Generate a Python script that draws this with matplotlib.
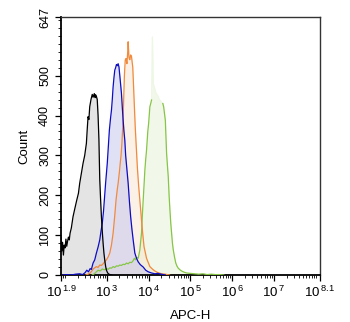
import matplotlib
matplotlib.use("Agg")
import matplotlib.pyplot as plt
from matplotlib.ticker import FixedLocator, LogLocator, NullFormatter, MultipleLocator
import numpy as np

plt.rcParams["font.family"] = ["Liberation Sans", "DejaVu Sans"]
plt.rcParams["mathtext.fontset"] = "custom"
plt.rcParams["mathtext.rm"] = "Liberation Sans"

# ── Histogram data (x in log10 units, y = count) ────────────────────────────

black_x = [1.90, 1.92, 1.94, 1.96, 1.98, 2.00, 2.02, 2.04, 2.06, 2.08,
           2.10, 2.12, 2.15, 2.19, 2.23, 2.28, 2.32, 2.35, 2.39, 2.43,
           2.47, 2.51, 2.53, 2.55, 2.57, 2.59, 2.62, 2.65, 2.67, 2.70,
           2.72, 2.73, 2.75, 2.77, 2.79, 2.81, 2.83, 2.85, 2.87, 2.89,
           2.91, 2.93, 2.95, 2.97, 2.99, 3.02, 3.05, 3.08, 3.12]
black_y = [95, 60, 82, 50, 75, 68, 90, 72, 85, 95,
           88, 105, 118, 146, 165, 188, 205, 230, 255, 280,
           300, 330, 365, 397, 390, 422, 440, 453, 446, 455,
           445, 452, 448, 440, 400, 340, 240, 190, 146, 110,
           80, 55, 37, 22, 12, 5, 2, 1, 0]

blue_x = [1.95, 2.05, 2.15, 2.25, 2.35, 2.42, 2.48, 2.52, 2.56, 2.60,
          2.63, 2.67, 2.71, 2.75, 2.79, 2.83, 2.86, 2.89, 2.92, 2.94,
          2.97, 3.01, 3.03, 3.06, 3.09, 3.11, 3.13, 3.15, 3.17, 3.19,
          3.21, 3.23, 3.25, 3.27, 3.29, 3.32, 3.35, 3.37, 3.39, 3.41,
          3.43, 3.45, 3.48, 3.51, 3.54, 3.57, 3.60, 3.63, 3.67, 3.71,
          3.75, 3.80, 3.87, 3.93, 3.99, 4.07, 4.15, 4.22, 4.30, 4.40]
blue_y = [0, 1, 0, 2, 3, 1, 6, 12, 8, 16,
          14, 30, 38, 55, 70, 88, 110, 129, 160, 188,
          230, 280, 313, 363, 395, 413, 440, 472, 495, 514,
          520, 528, 525, 530, 522, 489, 455, 420, 388, 360,
          338, 300, 265, 230, 185, 146, 115, 88, 55, 42,
          33, 26, 20, 12, 8, 5, 3, 4, 2, 0]

orange_x = [2.50, 2.55, 2.60, 2.64, 2.67, 2.71, 2.75, 2.79, 2.83, 2.87,
            2.91, 2.95, 2.99, 3.03, 3.07, 3.11, 3.15, 3.19, 3.22, 3.25,
            3.27, 3.30, 3.32, 3.34, 3.36, 3.38, 3.40, 3.42, 3.44, 3.46,
            3.48, 3.50, 3.51, 3.53, 3.55, 3.57, 3.59, 3.61, 3.62, 3.64,
            3.66, 3.68, 3.70, 3.73, 3.76, 3.79, 3.82, 3.85, 3.89, 3.95,
            4.03, 4.10, 4.15, 4.22, 4.31, 4.40, 4.50]
orange_y = [0, 2, 5, 10, 15, 18, 21, 19, 25, 24,
            28, 33, 38, 45, 55, 75, 105, 150, 188, 215,
            230, 258, 280, 300, 330, 370, 430, 500, 539, 543,
            530, 560, 585, 545, 540, 552, 548, 530, 522, 472,
            420, 370, 330, 271, 225, 188, 150, 113, 71, 42,
            21, 14, 10, 6, 3, 2, 0]

green_x = [2.65, 2.70, 2.75, 2.79, 2.84, 2.89, 2.94, 2.99, 3.03, 3.07,
           3.11, 3.15, 3.19, 3.23, 3.27, 3.31, 3.35, 3.39, 3.43, 3.47,
           3.51, 3.55, 3.59, 3.63, 3.66, 3.69, 3.72, 3.75, 3.77, 3.79,
           3.81, 3.83, 3.85, 3.87, 3.89, 3.91, 3.93, 3.95, 3.98, 4.00,
           4.03, 4.05, 4.07, 4.09, 4.11, 4.14, 4.18, 4.22, 4.26, 4.30,
           4.34, 4.36, 4.38, 4.40, 4.43, 4.45, 4.47, 4.49, 4.51, 4.53,
           4.55, 4.57, 4.59, 4.62, 4.65, 4.68, 4.71, 4.75, 4.79, 4.85,
           4.91, 5.00, 5.10, 5.20, 5.30, 5.40, 5.50, 5.60, 5.70, 5.80]
green_y = [0, 3, 8, 12, 10, 15, 13, 16, 14, 18,
           17, 21, 19, 23, 22, 25, 24, 27, 26, 30,
           28, 32, 31, 36, 42, 38, 44, 42, 52, 63,
           85, 105, 150, 188, 225, 263, 290, 313, 360, 380,
           422, 430, 439, 597, 480, 470, 455, 450, 440, 435,
           430, 422, 405, 388, 305, 275, 246, 200, 163, 130,
           105, 80, 63, 45, 30, 22, 17, 13, 10, 7,
           5, 4, 3, 2, 3, 1, 2, 1, 1, 0]

x_ticks_exp = [1.9, 3, 4, 5, 6, 7, 8.1]
y_ticks = [0, 100, 200, 300, 400, 500, 647]

# ── Plot ────────────────────────────────────────────────────────────────────

fig = plt.figure(figsize=(3.5, 3.22), dpi=100)
ax = fig.add_axes([0.174, 0.146, 0.74, 0.801])

series = [
    (green_x, green_y, "#86c545", "#d9edc4", 0.35),
    (orange_x, orange_y, "#f08a3c", "#f9d9bb", 0.35),
    (blue_x, blue_y, "#0c0cc4", "#c4c4ef", 0.5),
    (black_x, black_y, "#000000", "#cfcfcf", 0.55),
]

for xs, ys, lc, fc, a in series:
    ax.fill_between(10 ** np.array(xs), ys, 0, color=fc, alpha=a, lw=0, zorder=1)

for xs, ys, lc, fc, a in series:
    xv = 10 ** np.array(xs)
    yv = np.array(ys, dtype=float)
    if lc == "#86c545":
        # top of the green peak is washed out in the original
        xa = np.array(xs)
        faint = (xa > 4.08) & (xa < 4.33)
        ym = yv.copy()
        ym[faint] = np.nan
        seg = (xa >= 4.07) & (xa <= 4.34)
        ax.plot(xv[seg], yv[seg], color="#eef6e4", lw=0.9, zorder=2)
        ax.plot(xv, ym, color=lc, lw=0.9, zorder=3)
    else:
        ax.plot(xv, yv, color=lc, lw=0.9, zorder=3)

ax.set_xscale("log")
ax.set_xlim(10 ** 1.9, 10 ** 8.1)
ax.set_ylim(0, 647)

ax.xaxis.set_major_locator(FixedLocator([10 ** e for e in x_ticks_exp]))
ax.set_xticklabels([f"$\\mathregular{{10^{{\\,{e:g}}}}}$" for e in x_ticks_exp])
ax.xaxis.set_minor_locator(LogLocator(base=10, subs=np.arange(1, 10), numticks=20))
ax.xaxis.set_minor_formatter(NullFormatter())

ax.set_yticks(y_ticks)
ax.set_yticklabels([str(v) for v in y_ticks], rotation=90, va="center")
ax.yaxis.set_minor_locator(MultipleLocator(20))

ax.tick_params(axis="both", which="major", direction="out", length=4, width=0.9,
               colors="black")
ax.tick_params(axis="x", which="major", labelsize=9.5, pad=3)
ax.tick_params(axis="y", which="major", labelsize=9, pad=3)
ax.tick_params(axis="both", which="minor", direction="out", length=2, width=0.6)

for side in ("left", "bottom"):
    ax.spines[side].set_linewidth(1.3)
    ax.spines[side].set_color("black")
for side in ("top", "right"):
    ax.spines[side].set_linewidth(1.0)
    ax.spines[side].set_color("#333333")

ax.set_xlabel("APC-H", fontsize=9.5, labelpad=7)
ax.set_ylabel("Count", fontsize=9.5, labelpad=6)

fig.savefig("out.png", dpi=100)
